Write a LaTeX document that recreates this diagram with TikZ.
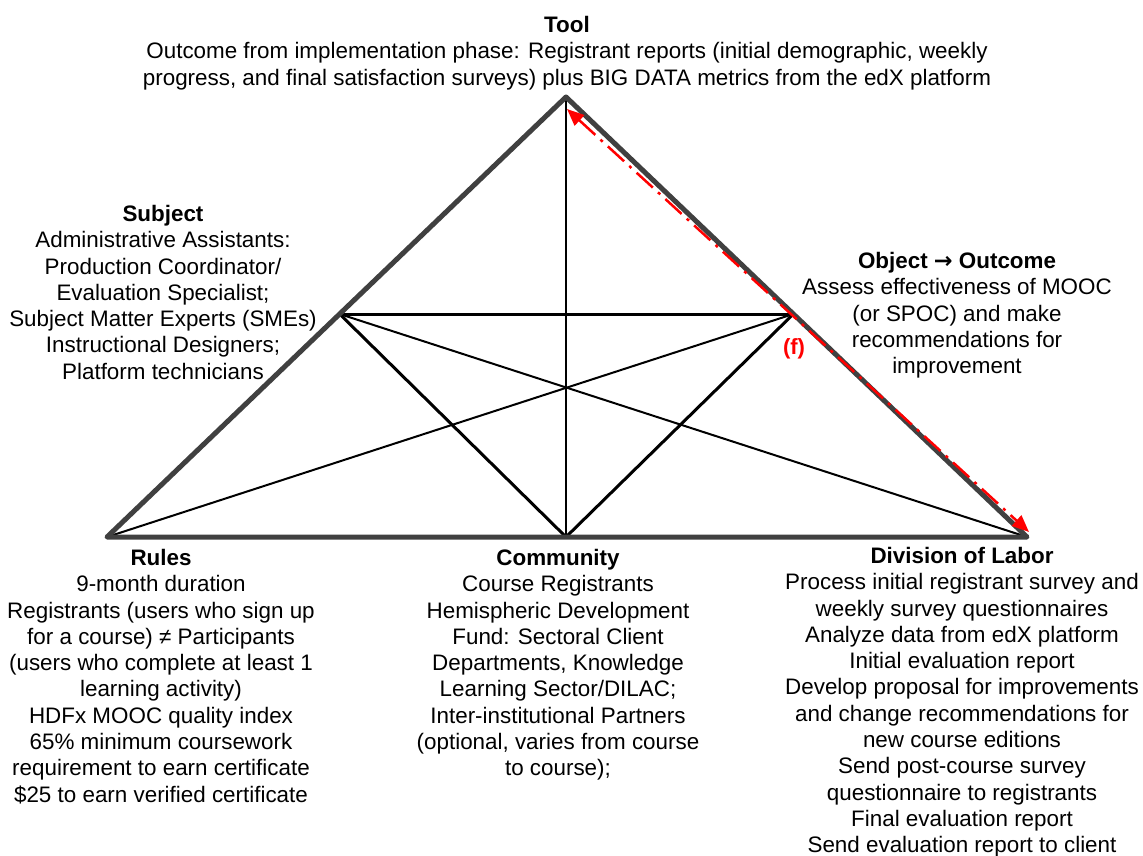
\documentclass[tikz,border=0pt]{standalone}
\usepackage{fontspec}
\setmainfont{Liberation Sans}
\newfontfamily\arrowfont{DejaVu Sans}
\usetikzlibrary{calc,arrows.meta}
\definecolor{edgegrey}{HTML}{404040}
\definecolor{fred}{HTML}{FF0000}
\begin{document}
\begin{tikzpicture}[x=1pt,y=-1pt,
  outer/.style={draw=edgegrey,line width=5pt,line cap=round,line join=round},
  heavy/.style={draw=black,line width=3pt,line cap=round},
  light/.style={draw=black,line width=2pt,line cap=round},
  block/.style={align=center,inner sep=0pt,anchor=north,
    font=\fontsize{22.4}{26.3}\selectfont},
  flow/.style={draw=fred,line width=2.5pt,
    dash pattern=on 22pt off 7pt on 3pt off 7pt,
    {Triangle[length=17pt,width=14pt]}-{Triangle[length=17pt,width=14pt]}}]
\useasboundingbox (0,0) rectangle (1143,856);

% corners of the activity triangle
\coordinate (apex) at (566,97);
\coordinate (left) at (107,537);
\coordinate (right) at (1027,537);
\coordinate (comm) at (566,537);
\coordinate (subj) at ($(apex)!0.4932!(left)$);
\coordinate (obj) at ($(apex)!0.4932!(right)$);

% inner connections
\draw[light] (subj) -- (right);
\draw[light] (obj) -- (left);
\draw[light] (apex) -- (comm);
\draw[heavy] (subj) -- (obj);
\draw[heavy] (subj) -- (comm);
\draw[heavy] (obj) -- (comm);

% outer triangle
\draw[outer] (apex) -- (left) -- (right) -- cycle;

% outcome loop arrow
\coordinate (fa) at (567,109);
\coordinate (fb) at (1029,532);
\draw[flow] (fa) -- (fb);
\node[text=fred,font=\fontsize{22}{26}\selectfont\bfseries] (flabel) at (794,349) {(f)};

% labels
\node[block] (tool) at (567,16) {\textbf{Tool}\\
Outcome from implementation phase: Registrant reports (initial demographic, weekly\\
progress, and final satisfaction surveys) plus BIG DATA metrics from the edX platform};

\node[block] (subject) at (163,205) {\textbf{Subject}\\
Administrative Assistants:\\
Production Coordinator/\\
Evaluation Specialist;\\
Subject Matter Experts (SMEs)\\
Instructional Designers;\\
Platform technicians};

\node[block] (object) at (957,252) {\textbf{Object {\arrowfont →} Outcome}\\
Assess effectiveness of MOOC\\
(or SPOC) and make\\
recommendations for\\
improvement};

\node[block] (rules) at (161,549) {\textbf{Rules}\\
9-month duration\\
Registrants (users who sign up\\
for a course) ≠ Participants\\
(users who complete at least 1\\
learning activity)\\
HDFx MOOC quality index\\
65\% minimum coursework\\
requirement to earn certificate\\
\$25 to earn verified certificate};

\node[block] (community) at (558,549) {\textbf{Community}\\
Course Registrants\\
Hemispheric Development\\
Fund: Sectoral Client\\
Departments, Knowledge\\
Learning Sector/DILAC;\\
Inter-institutional Partners\\
(optional, varies from course\\
to course);};

\node[block] (labor) at (962,547) {\textbf{Division of Labor}\\
Process initial registrant survey and\\
weekly survey questionnaires\\
Analyze data from edX platform\\
Initial evaluation report\\
Develop proposal for improvements\\
and change recommendations for\\
new course editions\\
Send post-course survey\\
questionnaire to registrants\\
Final evaluation report\\
Send evaluation report to client};
\end{tikzpicture}
\end{document}
